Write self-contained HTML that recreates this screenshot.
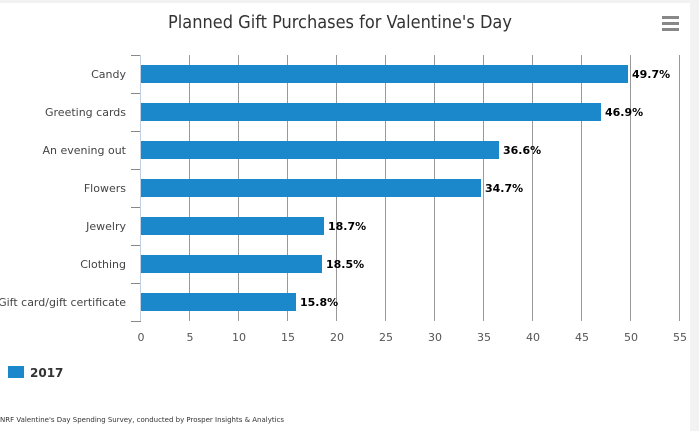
<!DOCTYPE html><html><head><style>body{margin:0;background:#f2f2f2}</style></head><body>
<svg width="699" height="431" xmlns="http://www.w3.org/2000/svg" style="display:block;font-family:'DejaVu Sans','Liberation Sans',sans-serif">
<rect x="0" y="0" width="699" height="431" fill="#f2f2f2"/>
<rect x="0" y="3" width="690" height="428" fill="#fff"/>
<text x="340" y="28" text-anchor="middle" font-size="18" fill="#333" font-family="'DejaVu Sans Condensed','DejaVu Sans',sans-serif">Planned Gift Purchases for Valentine's Day</text>
<g fill="#888"><rect x="662" y="16" width="17" height="3"/><rect x="662" y="22" width="17" height="3"/><rect x="662" y="28" width="17" height="3"/></g>
<g stroke="#999" stroke-width="1">
<line x1="189.5" y1="55" x2="189.5" y2="321"/><line x1="238.5" y1="55" x2="238.5" y2="321"/><line x1="287.5" y1="55" x2="287.5" y2="321"/><line x1="336.5" y1="55" x2="336.5" y2="321"/><line x1="385.5" y1="55" x2="385.5" y2="321"/><line x1="434.5" y1="55" x2="434.5" y2="321"/><line x1="483.5" y1="55" x2="483.5" y2="321"/><line x1="532.5" y1="55" x2="532.5" y2="321"/><line x1="581.5" y1="55" x2="581.5" y2="321"/><line x1="630.5" y1="55" x2="630.5" y2="321"/><line x1="679.5" y1="55" x2="679.5" y2="321"/>
</g>
<g stroke="#888"><line x1="131" y1="55.5" x2="141" y2="55.5"/><line x1="131" y1="93.5" x2="141" y2="93.5"/><line x1="131" y1="131.5" x2="141" y2="131.5"/><line x1="131" y1="169.5" x2="141" y2="169.5"/><line x1="131" y1="207.5" x2="141" y2="207.5"/><line x1="131" y1="245.5" x2="141" y2="245.5"/><line x1="131" y1="283.5" x2="141" y2="283.5"/><line x1="131" y1="321.5" x2="141" y2="321.5"/></g>
<line x1="140.5" y1="55" x2="140.5" y2="321" stroke="#c0d0e0"/>
<g fill="#1b88cb">
<rect x="141" y="65" width="487" height="18"/><rect x="141" y="103" width="460" height="18"/><rect x="141" y="141" width="358" height="18"/><rect x="141" y="179" width="340" height="18"/><rect x="141" y="217" width="183" height="18"/><rect x="141" y="255" width="181" height="18"/><rect x="141" y="293" width="155" height="18"/>
</g>
<g font-size="11" fill="#000" font-weight="bold">
<text x="632" y="78">49.7%</text><text x="605" y="116">46.9%</text><text x="503" y="154">36.6%</text><text x="485" y="192">34.7%</text><text x="328" y="230">18.7%</text><text x="326" y="268">18.5%</text><text x="300" y="306">15.8%</text>
</g>
<g font-size="11" fill="#444" text-anchor="end">
<text x="126" y="78">Candy</text><text x="126" y="116">Greeting cards</text><text x="126" y="154">An evening out</text><text x="126" y="192">Flowers</text><text x="126" y="230">Jewelry</text><text x="126" y="268">Clothing</text><text x="126" y="306">Gift card/gift certificate</text>
</g>
<g font-size="11" fill="#555" text-anchor="middle">
<text x="141" y="341">0</text><text x="190" y="341">5</text><text x="239" y="341">10</text><text x="288" y="341">15</text><text x="337" y="341">20</text><text x="386" y="341">25</text><text x="435" y="341">30</text><text x="484" y="341">35</text><text x="533" y="341">40</text><text x="582" y="341">45</text><text x="631" y="341">50</text><text x="680" y="341">55</text>
</g>
<rect x="8" y="366" width="16" height="12" fill="#1b88cb"/>
<text x="30" y="377" font-size="12" font-weight="bold" fill="#333">2017</text>
<text x="0" y="422" font-size="7" fill="#333" textLength="284" lengthAdjust="spacingAndGlyphs">NRF Valentine's Day Spending Survey, conducted by Prosper Insights &amp; Analytics</text>
</svg></body></html>
